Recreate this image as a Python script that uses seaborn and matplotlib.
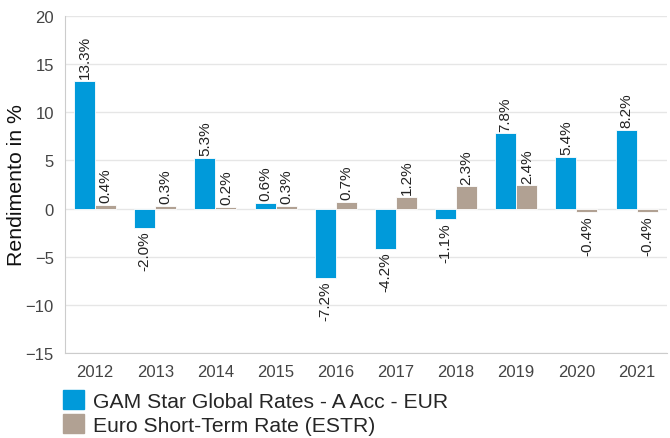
import pandas as pd
import matplotlib.pyplot as plt
import seaborn as sns

years = ["2012", "2013", "2014", "2015", "2016", "2017", "2018", "2019", "2020", "2021"]
gam = [13.3, -2.0, 5.3, 0.6, -7.2, -4.2, -1.1, 7.8, 5.4, 8.2]
estr = [0.4, 0.3, 0.2, 0.3, 0.7, 1.2, 2.3, 2.4, -0.4, -0.4]
series_names = ["GAM Star Global Rates - A Acc - EUR", "Euro Short-Term Rate (ESTR)"]
colors = ["#009ADA", "#B1A193"]

df = pd.DataFrame({
    "Year": years * 2,
    "Value": gam + estr,
    "Series": [series_names[0]] * len(years) + [series_names[1]] * len(years),
})

sns.set_style("white")
plt.rcParams["font.family"] = ["Liberation Sans", "DejaVu Sans"]

fig = plt.figure(figsize=(6.7, 4.39), dpi=100)
ax = fig.add_axes([0.097, 0.194, 0.898, 0.767])

sns.barplot(data=df, x="Year", y="Value", hue="Series", palette=colors, saturation=1,
            width=0.7, gap=0, edgecolor="white", linewidth=0.6, ax=ax, legend=False)

# value labels, rotated, above/below each bar
for cont in ax.containers:
    ax.bar_label(cont, labels=[f"{v:.1f}%" for v in cont.datavalues],
                 rotation=90, padding=2, fontsize=11, color="#222222")

ax.set_ylim(-15, 20)
ax.set_yticks(range(-15, 21, 5))
ax.set_xlim(-0.5, len(years) - 0.5)
ax.grid(axis="y", color="#e6e6e6", linewidth=1)
ax.set_axisbelow(True)
for s in ["top", "right"]:
    ax.spines[s].set_visible(False)
for s in ["left", "bottom"]:
    ax.spines[s].set_color("#cccccc")
ax.tick_params(axis="both", length=0, labelsize=12, labelcolor="#444444", pad=8)
ax.set_xlabel("")
ax.set_ylabel("Rendimento in %", fontsize=15.3, color="#111111")
ax.yaxis.set_label_coords(-0.065, 0.5)

handles = [plt.Rectangle((0, 0), 1, 1, color=c) for c in colors]
fig.legend(handles, series_names, loc="upper left", bbox_to_anchor=(0.088, 0.119),
           frameon=False, fontsize=15.2, handlelength=1.0, handleheight=1.0,
           handletextpad=0.4, labelspacing=0.15, borderaxespad=0, borderpad=0.2)

fig.savefig("out.png", dpi=100)
